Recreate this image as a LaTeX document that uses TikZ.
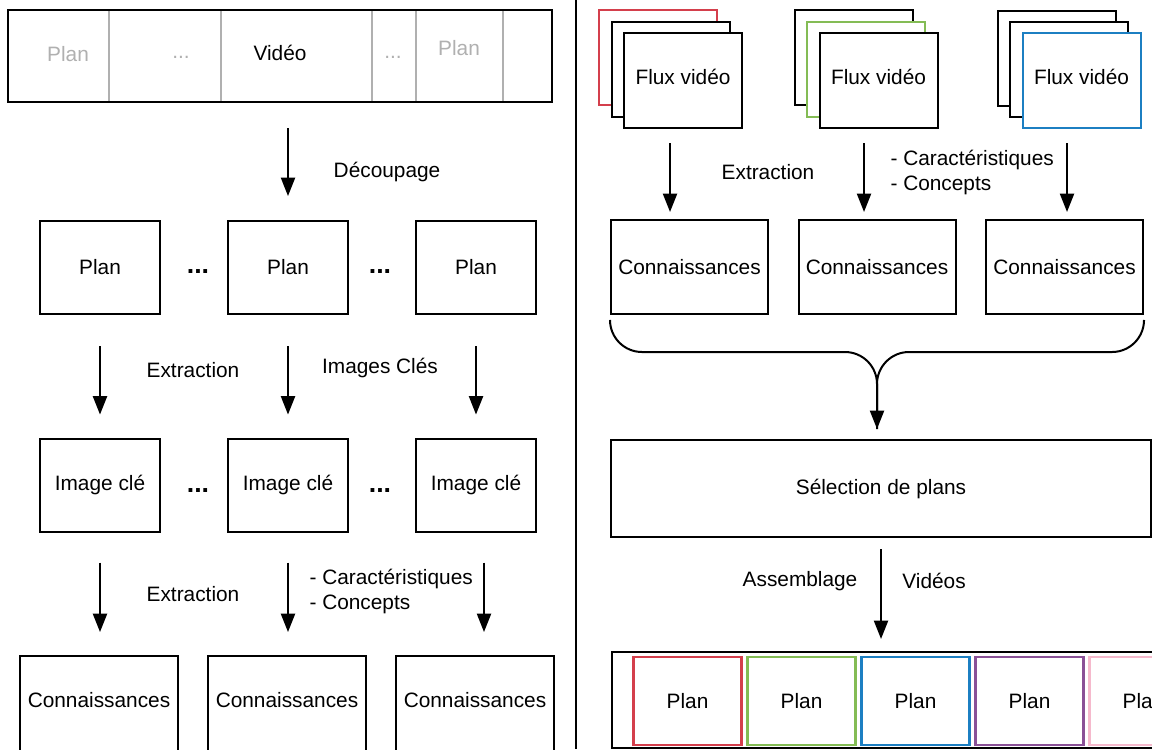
\documentclass[tikz,border=0pt]{standalone}
\usepackage{fontspec}
\setmainfont{Liberation Sans}
\usepackage{tikz}
\usetikzlibrary{positioning,arrows.meta,calc}
\definecolor{vsred}{HTML}{D43F4C}
\definecolor{vsgreen}{HTML}{84BC55}
\definecolor{vsblue}{HTML}{1C7FC2}
\definecolor{vspurple}{HTML}{8A5197}
\definecolor{vspink}{HTML}{F5B9CC}
\definecolor{vsgrey}{HTML}{B0B0B0}

\begin{document}
\begin{tikzpicture}[x=0.6pt,y=-0.6pt,font=\fontsize{12.5}{15}\selectfont,>={Triangle[length=11pt,width=8.4pt]},line width=1.2pt]
  \tikzstyle{box}=[draw,fill=white,minimum width=72pt,minimum height=55.8pt]
  \tikzstyle{kbox}=[draw,minimum width=94.8pt,minimum height=60pt,text depth=7.2pt,anchor=north]
  \tikzstyle{cbox}=[draw,minimum width=94.2pt,minimum height=56.4pt]
  \tikzstyle{flux}=[draw,fill=white,minimum width=70.8pt,minimum height=57pt,text depth=4pt]
  \tikzstyle{shot}=[draw,line width=1.3pt,minimum width=64.8pt,minimum height=52.8pt]
  \tikzstyle{dots}=[font=\fontsize{16}{18}\selectfont\bfseries]
  \useasboundingbox (0,0) rectangle (1152,749);
  \clip (0,0) rectangle (1152,749);
  % left: cutting one video into shots
  \node[draw,minimum width=326.4pt,minimum height=55.2pt] (strip) at (280,56) {};
  \draw[vsgrey,line width=0.9pt] (109,11) -- (109,101) (221,11) -- (221,101) (372,11) -- (372,101)
    (416,11) -- (416,101) (503,11) -- (503,101);
  \node[text=vsgrey] (s1) at (68,54) {Plan};
  \node[text=vsgrey] (s2) at (181,57) {...};
  \node (s3) at (280,53) {Vidéo};
  \node[text=vsgrey] (s4) at (393,57) {...};
  \node[text=vsgrey] (s5) at (459,48) {Plan};
  % shots
  \node[box] (p1) at (100,267.5) {Plan};
  \node[box,right=39.6pt of p1] (p2) {Plan};
  \node[box,right=39.6pt of p2] (p3) {Plan};
  \node[dots] (d1) at (198,272) {...};
  \node[dots] (d2) at (380,272) {...};
  % key frames
  \node[box,below=73.5pt of p1] (i1) {Image clé};
  \node[box,right=39.6pt of i1] (i2) {Image clé};
  \node[box,right=39.6pt of i2] (i3) {Image clé};
  \node[dots] (d3) at (198,490) {...};
  \node[dots] (d4) at (380,490) {...};
  % knowledge
  \node[kbox] (k1) at (99,655) {Connaissances};
  \node[kbox,right=16.8pt of k1] (k2) {Connaissances};
  \node[kbox,right=16.8pt of k2] (k3) {Connaissances};
  % left arrows
  \draw[->,shorten <=15pt,shorten >=14.4pt] (p2 |- strip.south) -- (p2.north);
  \node (cut) at (387,172) {Découpage};
  \draw[->,shorten <=18.6pt,shorten >=13.8pt] (p1) -- (i1);
  \draw[->,shorten <=18.6pt,shorten >=13.8pt] (p2) -- (i2);
  \draw[->,shorten <=18.6pt,shorten >=13.8pt] (p3) -- (i3);
  \node (ex1) at (193,370) {Extraction};
  \node (kf) at (380,368) {Images Clés};
  \draw[->,shorten <=18pt,shorten >=13.8pt] (i1.south) -- (i1.south |- k1.north);
  \draw[->,shorten <=18pt,shorten >=13.8pt] (i2.south) -- (i2.south |- k2.north);
  \draw[->,shorten <=18pt,shorten >=13.8pt] ([xshift=4.8pt]i3.south) -- ([xshift=4.8pt]i3.south |- k3.north);
  \node (ex2) at (193,594) {Extraction};
  \node[align=left,anchor=west] (feat1) at (303,591.5) {- Caractéristiques\\- Concepts};
  % separator
  \draw (576,0) -- (576,749);
  % right: several video streams
  \node[flux,draw=vsred] (r1) at (658,57) {};
  \node[flux] (m1) at (670.5,69) {};
  \node[flux] (f1) at (683,80.5) {Flux vidéo};
  \node[flux] (r2) at (853.5,57) {};
  \node[flux,draw=vsgreen] (m2) at (866,69) {};
  \node[flux] (f2) at (878.5,80.5) {Flux vidéo};
  \node[flux] (r3) at (1056.5,58) {};
  \node[flux] (m3) at (1069,69.5) {};
  \node[flux,draw=vsblue] (f3) at (1081.5,80.5) {Flux vidéo};
  \node[cbox] (c1) at (689.5,267) {Connaissances};
  \node[cbox,right=17.1pt of c1] (c2) {Connaissances};
  \node[cbox,right=17.1pt of c2] (c3) {Connaissances};
  \draw[->,shorten <=8.4pt,shorten >=4.2pt] ([xshift=-7.8pt]f1.south) -- ([xshift=-7.8pt]f1.south |- c1.north);
  \draw[->,shorten <=8.4pt,shorten >=4.2pt] ([xshift=-8.7pt]f2.south) -- ([xshift=-8.7pt]f2.south |- c2.north);
  \draw[->,shorten <=8.4pt,shorten >=4.2pt] ([xshift=-8.7pt]f3.south) -- ([xshift=-8.7pt]f3.south |- c3.north);
  \node (ex3) at (768,172) {Extraction};
  \node[align=left,anchor=west] (feat2) at (884,172) {- Caractéristiques\\- Concepts};
  % selection and assembly
  \node[draw,minimum width=324pt,minimum height=58.2pt] (sel) at (881,488.5) {Sélection de plans};
  \coordinate (bl) at ([yshift=-3.6pt]c1.south west);
  \coordinate (br) at ([yshift=-3.6pt]c3.south east);
  \coordinate (bm) at (877,352);
  \draw[rounded corners=19.2pt,shorten >=6pt] (bl) |- (bm) -- (bm |- sel.north);
  \draw[->,rounded corners=19.2pt,shorten >=6pt] (br) |- (bm) -- (bm |- sel.north);
  \node[draw,minimum width=336pt,minimum height=57.6pt,anchor=west] (vbar) at (611,700) {};
  \draw[->,shorten <=6.6pt,shorten >=7.2pt] (sel.south) -- (sel.south |- vbar.north);
  \node (asm) at (800,581) {Assemblage};
  \node (vid) at (934,581) {Vidéos};
  \node[shot,draw=vsred] (v1) at (687.5,701) {Plan};
  \node[shot,draw=vsgreen,right=2.3pt of v1] (v2) {Plan};
  \node[shot,draw=vsblue,right=2.3pt of v2] (v3) {Plan};
  \node[shot,draw=vspurple,right=2.3pt of v3] (v4) {Plan};
  \node[shot,draw=vspink,right=2.3pt of v4] (v5) {Plan};
\end{tikzpicture}
\end{document}
